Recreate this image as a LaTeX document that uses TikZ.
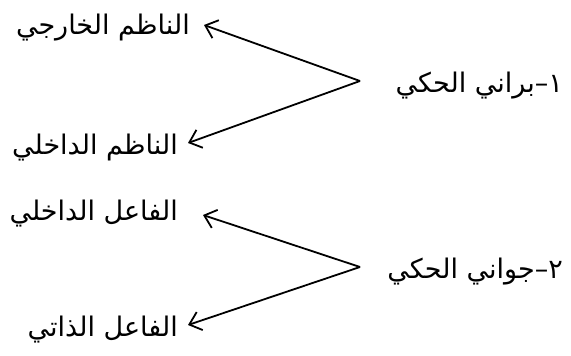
\documentclass[tikz,border=0pt]{standalone}
\usepackage{fontspec}
\usetikzlibrary{arrows.meta}
\TeXXeTstate=1
\newfontfamily\arabicfont[Script=Arabic]{DejaVu Sans}
\begin{document}
\begin{tikzpicture}[x=1pt,y=-1pt,
  lbl/.style={font=\arabicfont\fontsize{27}{30}\selectfont, inner sep=0pt, anchor=east},
  arr/.style={line width=1.8pt, -{Straight Barb[length=11pt,width=19pt,line width=1.8pt]}}]
\useasboundingbox (0,0) rectangle (571,356);
\node[lbl] (t1) at (190,28) {\beginR الناظم الخارجي\endR};
\node[lbl] (t2) at (178,148) {\beginR الناظم الداخلي\endR};
\node[lbl] (m1) at (563,86) {\beginR ١–براني الحكي\endR};
\node[lbl] (t3) at (178,214) {\beginR الفاعل الداخلي\endR};
\node[lbl] (t4) at (178,330) {\beginR الفاعل الذاتي\endR};
\node[lbl] (m2) at (563,272) {\beginR ٢–جواني الحكي\endR};
\coordinate (v1) at (360,81);
\coordinate (v2) at (360,267);
\draw[arr] (v1) -- ([xshift=14pt,yshift=3pt]t1.east);
\draw[arr] (v1) -- ([xshift=10pt,yshift=5pt]t2.east);
\draw[arr] (v2) -- ([xshift=25pt,yshift=-1pt]t3.east);
\draw[arr] (v2) -- ([xshift=10pt,yshift=5pt]t4.east);
\end{tikzpicture}
\end{document}
